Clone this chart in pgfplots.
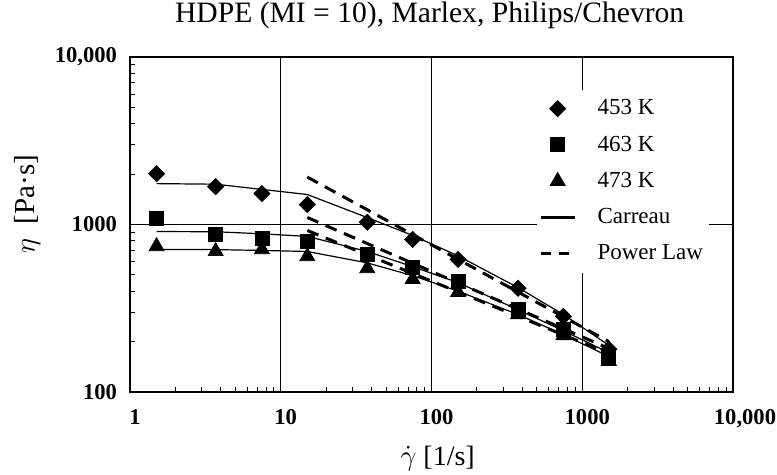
\documentclass[border=0pt]{standalone}
\usepackage{fontspec}
\setmainfont{Liberation Serif}
\usepackage{pgfplots}
\pgfplotsset{compat=1.18}
\begin{document}
\begin{tikzpicture}
\begin{axis}[
  at={(0pt,0pt)}, anchor=south west,
  scale only axis, width=301.5pt, height=167.5pt,
  xmode=log, ymode=log,
  xmin=1, xmax=10000, ymin=100, ymax=10000,
  axis line style={line width=1pt},
  xtick={1,10,100,1000,10000}, xticklabels={1,10,100,1000,{\hspace*{7pt}10,000}},
  ytick={100,1000,10000}, yticklabels={100,1000,{10,000}},
  tick pos=left, tick align=inside,
  major tick length=0pt, minor tick length=2.5pt,
  tick style={black, line width=0.5pt},
  grid=major, major grid style={black, line width=0.5pt},
  ticklabel style={font=\fontsize{11.3}{13}\selectfont\bfseries},
  xticklabel style={anchor=base, yshift=-16.5pt, xshift=2.5pt},
  yticklabel style={anchor=east, xshift=-3pt},
  title={HDPE (MI = 10), Marlex, Philips/Chevron},
  title style={font=\fontsize{14.8}{17}\selectfont, inner sep=0pt, at={(axis description cs:0.497,1.066)}, anchor=base},
  xlabel={$\dot{\gamma}$ [1/s]},
  xlabel style={font=\fontsize{14}{16}\selectfont, inner sep=0pt, at={(axis description cs:0.51,-0.218)}, anchor=base},
  ylabel={$\eta$\ \ [Pa·s]},
  ylabel style={font=\fontsize{14.5}{16}\selectfont, at={(axis description cs:-0.17,0.56)}, anchor=center},
  legend style={at={(axis description cs:0.674,0.904)}, anchor=north west, draw=none, fill=white,
    font=\fontsize{11.5}{13}\selectfont, row sep=5pt, column sep=8.5pt, inner xsep=1pt, inner ysep=3pt},
  legend cell align=left,
]
% Carreau fits
\addplot[black, line width=0.6pt, forget plot] coordinates {
 (1.5,1754) (3.7,1740) (7.5,1620) (15,1510) (37.5,1100) (75,860) (150,650) (375,420) (750,290) (1500,190)};
\addplot[black, line width=0.6pt, forget plot] coordinates {
 (1.5,908) (3.7,905) (7.5,880) (15,849) (37.5,690) (75,560) (150,450) (375,310) (750,232) (1500,172)};
\addplot[black, line width=0.6pt, forget plot] coordinates {
 (1.5,710) (3.7,708) (7.5,700) (15,690) (37.5,590) (75,495) (150,400) (375,290) (750,220) (1500,163)};
% Power law fits
\addplot[black, line width=1.5pt, dash pattern=on 6pt off 4pt, forget plot] coordinates {(15,1920) (1500,200)};
\addplot[black, line width=1.5pt, dash pattern=on 6pt off 4pt, forget plot] coordinates {(15,1101) (1500,182)};
\addplot[black, line width=1.5pt, dash pattern=on 6pt off 4pt, forget plot] coordinates {(15,921) (1500,170)};
% data
\addplot[black, only marks, mark=square*, mark size=2.83pt, mark options={rotate=45, fill=black}] coordinates {
 (1.5,2010) (3.7,1683) (7.5,1530) (15,1315) (37.5,1032) (75,814) (150,619) (375,416) (750,283) (1500,180)};
\addlegendentry{453 K}
\addplot[black, only marks, mark=square*, mark size=3.5pt, mark options={fill=black}] coordinates {
 (1.5,1086) (3.7,871) (7.5,826) (15,792) (37.5,663) (75,555) (150,458) (375,312) (750,237) (1500,164)};
\addlegendentry{463 K}
\addplot[black, only marks, mark=triangle*, mark size=4.3pt, mark options={fill=black}] coordinates {
 (1.5,740) (3.7,692) (7.5,710) (15,645) (37.5,547) (75,471) (150,394) (375,290) (750,218) (1500,153)};
\addlegendentry{473 K}
\addlegendimage{black, line width=1.2pt}
\addlegendentry{Carreau}
\addlegendimage{black, line width=1.8pt, dash pattern=on 5pt off 4pt}
\addlegendentry{Power Law}
\end{axis}
\pgfresetboundingbox
\path[use as bounding box] (-65pt,-41.5pt) rectangle (323.5pt,196pt);
\end{tikzpicture}
\end{document}
